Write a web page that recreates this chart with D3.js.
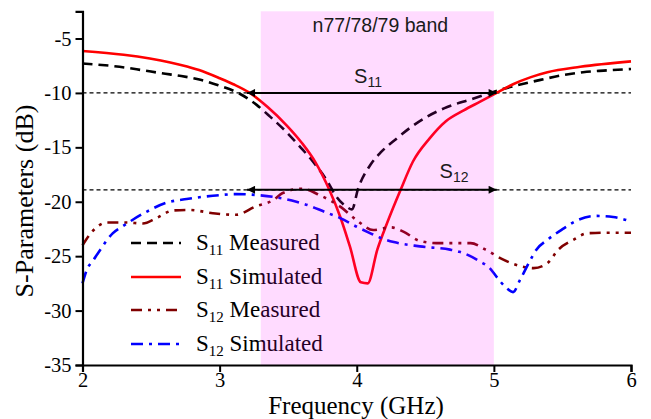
<!DOCTYPE html>
<html>
<head>
<meta charset="utf-8">
<script src="https://cdn.jsdelivr.net/npm/d3@7"></script>
<style>
  html, body { margin: 0; padding: 0; background: #fff; }
  svg { display: block; }
  .serif { font-family: "Liberation Serif", "Times New Roman", "DejaVu Serif", serif; }
  .sans { font-family: "Liberation Sans", Arial, sans-serif; }
</style>
</head>
<body>
<div id="chart"></div>
<script>
// --- data (frequency in GHz, level in dB) ---
const s11MeasF = [2.0, 2.27, 2.43, 2.58, 2.72, 2.86, 2.99, 3.15, 3.27, 3.37, 3.48, 3.59, 3.68, 3.78, 3.85, 3.93, 3.965, 4.01, 4.1, 4.18, 4.29, 4.4, 4.51, 4.66, 4.83, 5.05, 5.34, 5.51, 5.65, 5.8, 6.0];
const s11MeasDb = [-7.3, -7.6, -7.9, -8.2, -8.45, -8.8, -9.3, -10.1, -11.1, -12.2, -13.5, -15.0, -16.3, -18.0, -19.5, -20.5, -20.7, -18.8, -16.6, -15.4, -14.2, -13.1, -12.2, -11.3, -10.6, -9.7, -8.8, -8.35, -8.1, -7.95, -7.8];

const s11SimF = [2.0, 2.3, 2.64, 2.85, 3.0, 3.1, 3.22, 3.35, 3.49, 3.6, 3.7, 3.8, 3.88, 3.95, 4.03, 4.08, 4.15, 4.22, 4.32, 4.41, 4.53, 4.65, 4.78, 4.9, 5.02, 5.14, 5.27, 5.39, 5.63, 6.0];
const s11SimDb = [-6.15, -6.5, -7.2, -7.9, -8.65, -9.2, -10.0, -11.3, -13.0, -14.6, -16.4, -18.9, -21.4, -24.1, -27.4, -27.5, -24.4, -22.0, -18.9, -16.3, -14.2, -12.6, -11.6, -10.8, -10.0, -9.2, -8.55, -8.1, -7.6, -7.1];

const s12MeasF = [2.0, 2.07, 2.18, 2.32, 2.44, 2.54, 2.66, 2.78, 2.95, 3.12, 3.26, 3.39, 3.46, 3.6, 3.73, 3.88, 4.0, 4.12, 4.25, 4.34, 4.46, 4.58, 4.75, 4.83, 4.94, 5.05, 5.22, 5.29, 5.39, 5.47, 5.58, 5.68, 5.81, 5.94, 6.0];
const s12MeasDb = [-24.0, -22.75, -21.9, -21.9, -22.0, -21.5, -20.8, -20.75, -21.05, -21.2, -20.45, -19.85, -19.2, -18.8, -19.4, -20.45, -21.7, -22.6, -22.35, -22.75, -23.6, -23.8, -23.8, -23.8, -24.4, -25.2, -26.0, -26.1, -25.65, -24.4, -23.5, -22.9, -22.85, -22.85, -22.85];

const s12SimF = [2.0, 2.03, 2.08, 2.13, 2.22, 2.3, 2.47, 2.61, 2.76, 2.95, 3.12, 3.29, 3.39, 3.56, 3.64, 3.76, 3.88, 4.0, 4.1, 4.17, 4.27, 4.46, 4.68, 4.75, 4.9, 4.97, 5.02, 5.09, 5.14, 5.19, 5.26, 5.31, 5.39, 5.51, 5.6, 5.75, 5.87, 6.0];
const s12SimDb = [-27.5, -26.3, -25.35, -24.4, -22.9, -22.2, -20.9, -20.1, -19.75, -19.45, -19.3, -19.4, -19.55, -20.0, -20.3, -20.9, -21.5, -22.3, -22.9, -23.3, -23.7, -24.1, -24.4, -24.6, -25.5, -26.1, -26.9, -27.9, -28.3, -27.2, -25.5, -24.4, -23.5, -22.45, -21.75, -21.3, -21.4, -21.8];

const xTicks = [2, 3, 4, 5, 6];
const yTicks = [-35, -30, -25, -20, -15, -10, -5];
const band = [3.3, 5.0];            // n77/78/79 band
const bandLabel = "n77/78/79 band";
const refLevels = [-10, -18.9];     // dotted reference lines
const arrowSpan = [3.2, 5.02];      // bandwidth arrows
const legendNames = ["Measured", "Simulated", "Measured", "Simulated"];
const legendSubs = ["11", "11", "12", "12"];

// --- setup ---
const W = 651, H = 419;
const svg = d3.select("#chart").append("svg")
    .attr("width", W).attr("height", H);

const x = d3.scaleLinear().domain([2, 6]).range([82.5, 631]);
const y = d3.scaleLinear().domain([-35, -2.5]).range([365, 11.3]);

const series = [
    { f: s11MeasF, v: s11MeasDb, color: "#000000", dash: "10,6" },
    { f: s11SimF, v: s11SimDb, color: "#ff0000", dash: null },
    { f: s12MeasF, v: s12MeasDb, color: "#800000", dash: "11,6,3,6,3,6" },
    { f: s12SimF, v: s12SimDb, color: "#0000ff", dash: "12,6,3,6" }
];

// dotted reference lines
svg.append("g").selectAll("line")
    .data(refLevels)
    .join("line")
    .attr("x1", x(2)).attr("x2", x(6))
    .attr("y1", d => y(d)).attr("y2", d => y(d))
    .attr("stroke", "#000").attr("stroke-width", 1.3)
    .attr("stroke-dasharray", "4,3");

// curves
const line = d3.line()
    .x(d => x(d[0])).y(d => y(d[1]))
    .curve(d3.curveMonotoneX);

svg.append("g").selectAll("path")
    .data(series)
    .join("path")
    .attr("d", s => line(s.f.map((f, i) => [f, s.v[i]])))
    .attr("fill", "none")
    .attr("stroke", s => s.color)
    .attr("stroke-width", 2.6)
    .attr("stroke-dasharray", s => s.dash);

// legend
const legend = svg.append("g");
const rowY = [243, 277, 310, 344];
series.forEach((s, i) => {
    legend.append("line")
        .attr("x1", 131).attr("x2", 181)
        .attr("y1", rowY[i]).attr("y2", rowY[i])
        .attr("stroke", s.color).attr("stroke-width", 2.6)
        .attr("stroke-dasharray", s.dash);
    const t = legend.append("text")
        .attr("class", "serif")
        .attr("x", 196).attr("y", rowY[i] + 7)
        .attr("font-size", 23).attr("fill", "#000");
    t.append("tspan").text("S");
    t.append("tspan").attr("dy", 5).attr("font-size", 15).text(legendSubs[i]);
    t.append("tspan").attr("dy", -5).text(" " + legendNames[i]);
});

// pink band overlay (tints everything under it)
svg.append("rect")
    .attr("x", x(band[0])).attr("width", x(band[1]) - x(band[0]))
    .attr("y", y(-2.5)).attr("height", y(-35) - y(-2.5))
    .attr("fill", "#ff00ff").attr("fill-opacity", 0.14);

svg.append("text")
    .attr("class", "sans")
    .attr("x", (x(band[0]) + x(band[1])) / 2 + 3).attr("y", 32)
    .attr("text-anchor", "middle")
    .attr("font-size", 19.5).attr("fill", "#1a1a1a")
    .text(bandLabel);

// bandwidth arrows
const defs = svg.append("defs");
defs.append("marker")
    .attr("id", "arrow")
    .attr("viewBox", "0 0 10 10").attr("refX", 10).attr("refY", 5)
    .attr("markerWidth", 16).attr("markerHeight", 8)
    .attr("markerUnits", "userSpaceOnUse")
    .attr("orient", "auto-start-reverse")
    .append("path").attr("d", "M0,0L10,5L0,10Z").attr("fill", "#000");

svg.append("g").selectAll("line")
    .data(refLevels)
    .join("line")
    .attr("x1", x(arrowSpan[0])).attr("x2", x(arrowSpan[1]))
    .attr("y1", d => y(d)).attr("y2", d => y(d))
    .attr("stroke", "#000").attr("stroke-width", 2)
    .attr("marker-start", "url(#arrow)").attr("marker-end", "url(#arrow)");

const arrowLabels = [
    { sub: "11", cx: 368, yb: 83 },
    { sub: "12", cx: 454, yb: 178 }
];
arrowLabels.forEach(a => {
    const t = svg.append("text")
        .attr("class", "sans")
        .attr("x", a.cx).attr("y", a.yb).attr("text-anchor", "middle")
        .attr("font-size", 20).attr("fill", "#1a1a1a");
    t.append("tspan").text("S");
    t.append("tspan").attr("dy", 4).attr("font-size", 14).text(a.sub);
});

// axes
const xAxis = svg.append("g").attr("transform", `translate(0,${y(-35)})`);
xAxis.call(d3.axisBottom(x).tickValues(d3.range(2.5, 6, 1)).tickSize(4).tickFormat(""));
xAxis.call(d3.axisBottom(x).tickValues(xTicks).tickSize(7).tickPadding(0).tickFormat(d => String(d)));

const yAxis = svg.append("g").attr("transform", `translate(${x(2)},0)`);
yAxis.call(d3.axisLeft(y).tickValues(d3.range(-32.5, -2, 5)).tickSize(4).tickFormat(""));
yAxis.call(d3.axisLeft(y).tickValues(yTicks).tickSize(7).tickPadding(4).tickFormat(d => String(d)));

svg.selectAll("g[font-family]").attr("font-family", null);
svg.selectAll(".domain").attr("stroke", "#000").attr("stroke-width", 2.2);
svg.selectAll(".tick line").attr("stroke", "#000").attr("stroke-width", 2);
svg.selectAll(".tick text")
    .attr("class", "serif")
    .attr("font-size", 20.5).attr("fill", "#000");

svg.append("text")
    .attr("class", "serif")
    .attr("x", 356).attr("y", 414).attr("text-anchor", "middle")
    .attr("font-size", 25).attr("fill", "#000")
    .text("Frequency (GHz)");

svg.append("text")
    .attr("class", "serif")
    .attr("transform", `translate(33,201) rotate(-90)`)
    .attr("text-anchor", "middle")
    .attr("font-size", 26).attr("fill", "#000")
    .text("S-Parameters (dB)");
</script>
</body>
</html>
